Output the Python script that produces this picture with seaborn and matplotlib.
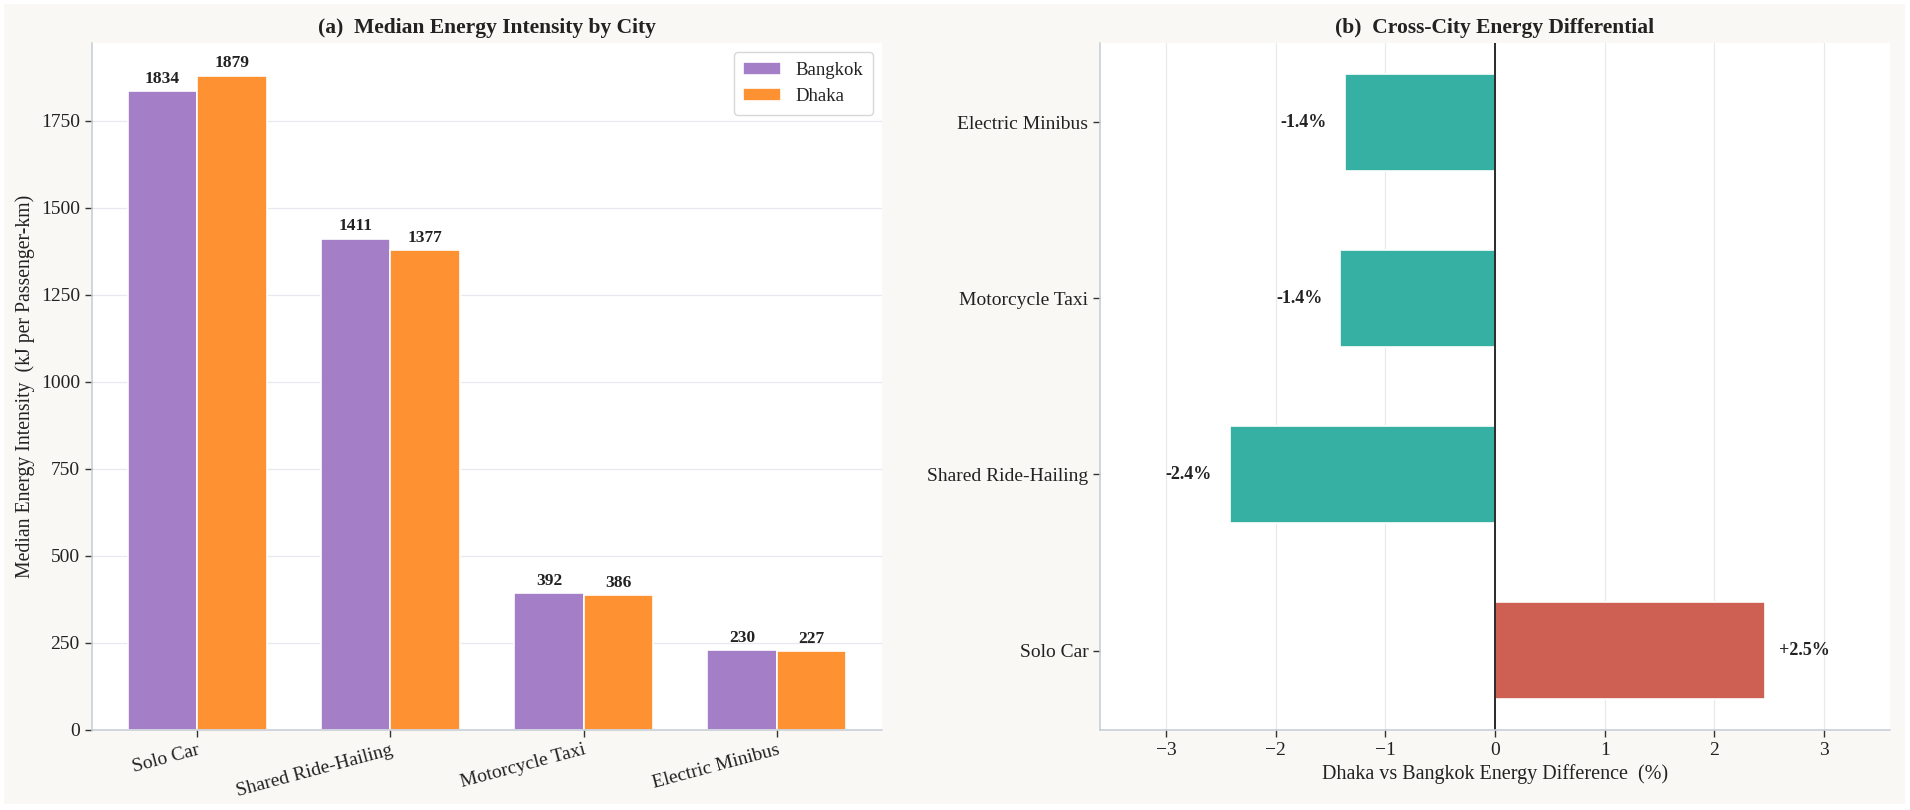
import numpy as np
import pandas as pd
import matplotlib.pyplot as plt
import seaborn as sns
from matplotlib.patches import Rectangle

modes = ['Solo Car', 'Shared Ride-Hailing', 'Motorcycle Taxi', 'Electric Minibus']
cities = ['Bangkok', 'Dhaka']
bangkok = [1834, 1411, 392, 230]
dhaka = [1879, 1377, 386, 227]
# Dhaka vs Bangkok difference in %, per mode
diff_pct = [2.46, -2.42, -1.41, -1.37]

city_colors = ['#a47ec7', '#fe9233']
pos_color = '#cd5f53'
neg_color = '#35b0a3'
bg = '#f9f8f5'
spine_col = '#c5ccd6'
grid_col = '#e8e8f0'

sns.set_theme(style='ticks')
plt.rcParams['font.family'] = ['Liberation Serif', 'DejaVu Serif']
plt.rcParams['text.color'] = '#222222'
plt.rcParams['axes.labelcolor'] = '#222222'
plt.rcParams['xtick.color'] = '#222222'
plt.rcParams['ytick.color'] = '#222222'

fig = plt.figure(figsize=(19.1, 8.1), dpi=100, facecolor='white')
# beige panel with a thin white rim
fig.patches.append(Rectangle((4 / 1910, 6 / 810), 1901 / 1910, 800 / 810,
                             transform=fig.transFigure, facecolor=bg,
                             edgecolor='none', zorder=-10))
ax1 = fig.add_axes([0.048, 0.099, 0.414, 0.848])
ax2 = fig.add_axes([0.576, 0.099, 0.4135, 0.848])

# (a) grouped bars
df = pd.DataFrame({
    'mode': modes * 2,
    'city': ['Bangkok'] * len(modes) + ['Dhaka'] * len(modes),
    'value': bangkok + dhaka,
})
sns.barplot(data=df, x='mode', y='value', hue='city', order=modes, hue_order=cities,
            palette=city_colors, saturation=1, width=0.72, gap=0,
            edgecolor='white', linewidth=1.2, ax=ax1)
for c in ax1.containers:
    ax1.bar_label(c, fmt='%.0f', padding=3, fontsize=12.5, fontweight='bold')

ax1.set_xlim(-0.546, 3.546)
ax1.set_ylim(0, max(bangkok + dhaka) * 1.05)
ax1.set_yticks([0, 250, 500, 750, 1000, 1250, 1500, 1750])
ax1.set_xlabel('')
ax1.set_ylabel('Median Energy Intensity  (kJ per Passenger-km)', fontsize=14.2)
ax1.set_title('(a)  Median Energy Intensity by City', fontsize=15.5, fontweight='bold', pad=7)
ax1.tick_params(axis='x', labelsize=14, rotation=15)
for lab in ax1.get_xticklabels():
    lab.set_ha('right')
    lab.set_rotation_mode('anchor')
ax1.tick_params(axis='y', labelsize=14)
ax1.grid(axis='y', color=grid_col, lw=0.9)
ax1.set_axisbelow(True)
leg = ax1.legend(loc='upper right', fontsize=13.5, frameon=True, title=None,
                 handlelength=2.0, borderpad=0.5)
leg.get_frame().set_edgecolor('#cccccc')
leg.get_frame().set_linewidth(1.0)

# (b) horizontal difference bars
df2 = pd.DataFrame({'mode': modes, 'diff': diff_pct})
pal = {m: (pos_color if d > 0 else neg_color) for m, d in zip(modes, diff_pct)}
order = modes[::-1]
sns.barplot(data=df2, y='mode', x='diff', hue='mode', order=order, palette=pal,
            saturation=1, width=0.55, edgecolor='white', linewidth=1.2,
            legend=False, ax=ax2)
for m, d in zip(modes, diff_pct):
    yi = order.index(m)
    if d >= 0:
        ax2.text(d + 0.13, yi, f'{d:+.1f}%', ha='left', va='center',
                 fontsize=13, fontweight='bold')
    else:
        ax2.text(d - 0.16, yi, f'{d:+.1f}%', ha='right', va='center',
                 fontsize=13, fontweight='bold')

ax2.axvline(0, color='#1a1a1a', lw=1.3)
ax2.set_xlim(-3.6, 3.6)
ax2.set_ylim(3.45, -0.45)
ax2.set_xticks([-3, -2, -1, 0, 1, 2, 3])
ax2.set_ylabel('')
ax2.set_xlabel('Dhaka vs Bangkok Energy Difference  (%)', fontsize=14.5)
ax2.set_title('(b)  Cross-City Energy Differential', fontsize=15.5, fontweight='bold', pad=7)
ax2.tick_params(axis='both', labelsize=14)
ax2.grid(axis='x', color=grid_col, lw=0.9)
ax2.set_axisbelow(True)

for ax in (ax1, ax2):
    ax.set_facecolor('white')
    sns.despine(ax=ax)
    for s in ('left', 'bottom'):
        ax.spines[s].set_color(spine_col)
        ax.spines[s].set_linewidth(1.1)
    ax.tick_params(length=5, width=1, color='#333333')

fig.savefig('out.png', dpi=100, facecolor='white')
